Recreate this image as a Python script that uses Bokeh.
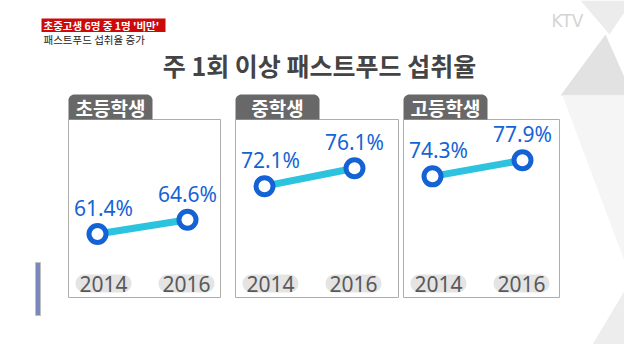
import math
from bokeh.plotting import figure
from bokeh.models import Range1d
from bokeh.core.properties import value
from bokeh.embed import file_html
from bokeh.resources import INLINE

# ---- data ----
groups = ["초등학생", "중학생", "고등학생"]
years = [2014, 2016]
year_labels = ["2014", "2016"]
rate_2014 = [61.4, 72.1, 74.3]
rate_2016 = [64.6, 76.1, 77.9]

title_text = "주 1회 이상 패스트푸드 섭취율"
badge_text = "초중고생 6명 중 1명 '비만'"
subtitle_text = "패스트푸드 섭취율 증가"
logo_text = "KTV"

# ---- layout (page pixels) ----
W, H = 624, 344
PX = 4.47                 # pixels per percentage point
V_TOP = 113.64
V_BOT = V_TOP - H / PX

PANEL_LEFT = [76, 243, 411]
PANEL_RIGHT = [228, 406, 567]
BOX_TOP, BOX_BOTTOM = 127, 305
TAB_W, TAB_TOP = 84, 102

KR = value("Noto Sans CJK KR")
NUM = value("Noto Sans")
BLUE = "#1463d6"
CYAN = "#2cc3de"


def yv(py):
    """page pixel y -> data y"""
    return V_TOP - (py - 8) / PX


def rrect(x0, y0, x1, y1, r, top_only=False):
    pts = []

    def arc(cx, cy, a0, a1, rr):
        for k in range(9):
            a = math.radians(a0 + (a1 - a0) * k / 8)
            pts.append((cx + rr * math.cos(a), cy - rr * math.sin(a)))

    arc(x0 + r, y0 + r, 90, 180, r)
    if top_only:
        pts.append((x0, y1))
        pts.append((x1, y1))
    else:
        arc(x0 + r, y1 - r, 180, 270, r)
        arc(x1 - r, y1 - r, 270, 360, r)
    arc(x1 - r, y0 + r, 0, 90, r)
    return [q[0] for q in pts], [yv(q[1]) for q in pts]


def year_x(i, yr):
    return PANEL_LEFT[i] + 29 + (yr - 2014) * 45


p = figure(width=W, height=H, x_range=Range1d(8, 8 + W), y_range=Range1d(V_BOT, V_TOP),
           output_backend="svg", toolbar_location=None, min_border=0,
           x_axis_location=None, y_axis_location=None,
           background_fill_color="white", border_fill_color="white")
p.xgrid.visible = False
p.ygrid.visible = False
p.outline_line_color = None

# ---- background decoration (right side) ----
bg_polys = [
    ([588, 640, 617], [8, 8, 42], "#ececec"),
    ([613, 568, 640], [42, 103, 103], "#e2e2e2"),
    ([570, 640, 640], [103, 103, 290], "#f5f5f5"),
    ([640, 600, 640], [285, 352, 352], "#ededed"),
]
for xs, ys, c in bg_polys:
    p.patch(xs, [yv(v) for v in ys], fill_color=c, line_color=None)

# left small bar
bx, by = [43, 48, 48, 43], [270, 270, 323, 323]
p.patch(bx, [yv(v) for v in by], fill_color="#7a88bd", line_color="#c0c0c0", line_width=1)

# ---- header texts ----
p.patch([49, 173, 173, 49], [yv(26), yv(26), yv(39.5), yv(39.5)], fill_color="#cc0a0a", line_color=None)
p.text(x=[51], y=[yv(33)], text=[badge_text], text_font=KR, text_font_style="bold",
       text_font_size="10.5px", text_color="white", text_baseline="middle", text_align="left")
p.text(x=[51], y=[yv(46.5)], text=[subtitle_text], text_font=KR,
       text_font_size="10.5px", text_color="#222222", text_baseline="middle", text_align="left")
p.text(x=[575], y=[yv(28)], text=[logo_text], text_font=value("DejaVu Sans"),
       text_font_size="17px", text_color="#d4d4d4", text_baseline="middle", text_align="center")

p.text(x=[327], y=[yv(72)], text=[title_text], text_font=KR, text_font_style="bold",
       text_font_size="25px", text_color="#444444", text_baseline="middle", text_align="center")

# ---- panels ----
for i, g in enumerate(groups):
    L, R = PANEL_LEFT[i], PANEL_RIGHT[i]
    # box
    p.patch([L, R, R, L], [yv(BOX_TOP), yv(BOX_TOP), yv(BOX_BOTTOM), yv(BOX_BOTTOM)],
            fill_color="white", line_color="#adadad", line_width=1)
    # tab
    tx, ty = rrect(L, TAB_TOP, L + TAB_W, BOX_TOP, 6, top_only=True)
    p.patch(tx, ty, fill_color="#686868", line_color=None)
    p.text(x=[L + TAB_W / 2], y=[yv(115)], text=[g], text_font=KR, text_font_style="bold",
           text_font_size="19px", text_color="white", text_baseline="middle", text_align="center")

    vals = [rate_2014[i], rate_2016[i]]
    xs = [year_x(i, yr) for yr in years]

    # year pills
    for j, yl in enumerate(year_labels):
        cx = xs[j] + (6 if j == 0 else -1)
        px_, py_ = rrect(cx - 28, 282, cx + 28, 300, 9)
        p.patch(px_, py_, fill_color="#e4e4e4", line_color=None)
        p.text(x=[cx], y=[yv(291.5)], text=[yl], text_font=NUM, text_font_size="21px",
               text_color="#595959", text_baseline="middle", text_align="center")

    # line + markers
    p.line(xs, vals, line_color=CYAN, line_width=7)
    p.scatter(xs, vals, marker="circle", size=17, fill_color="white",
              line_color=BLUE, line_width=5)

    # value labels (centre ~26px above the point)
    lx = [xs[0] + 6, xs[1]]
    ly = [v + 26 / PX for v in vals]
    p.text(x=lx, y=ly, text=[f"{v:.1f}%" for v in vals], text_font=NUM,
           text_font_size="21px", text_color=BLUE, text_baseline="middle",
           text_align="center")

open("out.html", "w").write(file_html(p, INLINE))
